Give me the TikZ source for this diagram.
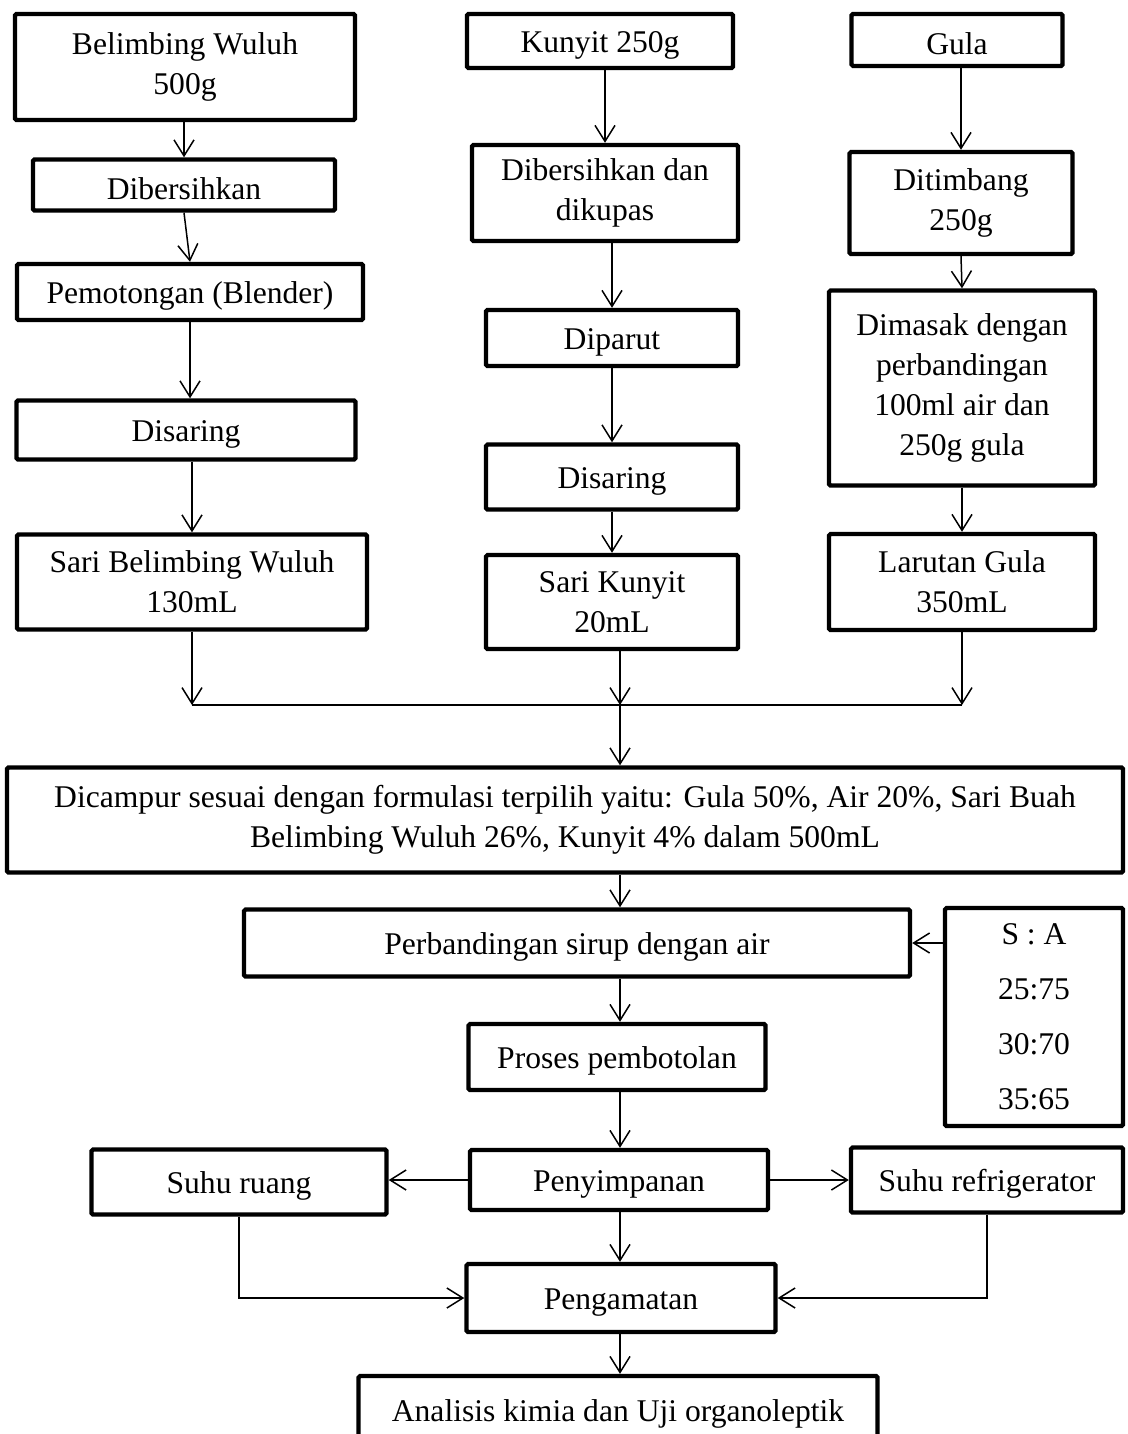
\documentclass[tikz,border=0pt]{standalone}
\usepackage{fontspec}
\setmainfont{Liberation Serif}
\usepackage{tikz}
\usetikzlibrary{arrows.meta,shadows}
\usetikzlibrary{positioning}
\tikzset{
    box/.style={
           rectangle,
           draw=black, line width=2.2pt,
           rounded corners=0.8pt,
           fill=white,
           inner sep=2pt,
           align=center,
           font=\fontsize{15.8pt}{20pt}\selectfont,
           execute at begin node={\rule{0pt}{15pt}},
           drop shadow={opacity=0.25, shadow xshift=0.8pt, shadow yshift=-0.8pt},
           },
}
\tikzset{
    arr/.style={
           line width=0.75pt,
           -{Straight Barb[length=8pt,width=10pt,line width=0.75pt]},
           },
}
\tikzset{
    sz/.style 2 args={minimum width=#1, minimum height=#2},
}

\begin{document}
\begin{tikzpicture}[x=0.5pt,y=-0.5pt]
\useasboundingbox (0,0) rectangle (1128,1434);
% belimbing wuluh
\node[box,sz={170pt}{53pt}] (bw) at (185,67) {Belimbing Wuluh\\500g};
\node[box,sz={151pt}{25.5pt}] (bersih) at (184,185) {Dibersihkan};
\node[box,sz={173pt}{28pt}] (potong) at (190,292) {Pemotongan (Blender)};
\node[box,sz={169.5pt}{29.5pt}] (saring) at (186,430) {Disaring};
\node[box,sz={175pt}{47.5pt}] (saribw) at (192,582) {Sari Belimbing Wuluh\\130mL};
% kunyit
\node[box,sz={133pt}{27pt}] (kunyit) at (600,41) {Kunyit 250g};
\node[box,sz={133pt}{48pt}] (kupas) at (605,193) {Dibersihkan dan\\dikupas};
\node[box,sz={126pt}{28pt}] (parut) at (612,338) {Diparut};
\node[box,sz={126pt}{32.5pt}] (saringk) at (612,477) {Disaring};
\node[box,sz={126pt}{47pt}] (sarik) at (612,602) {Sari Kunyit\\20mL};
% gula
\node[box,sz={105.5pt}{26pt}] (gula) at (957,40) {Gula};
\node[box,sz={111.5pt}{51pt}] (timbang) at (961,203) {Ditimbang\\250g};
\node[box,sz={133pt}{97.5pt}] (masak) at (962,388) {Dimasak dengan\\perbandingan\\100ml air dan\\250g gula};
\node[box,sz={133pt}{48pt}] (larutan) at (962,582) {Larutan Gula\\350mL};
% proses
\node[box,sz={558pt}{52.5pt}] (campur) at (565,820) {Dicampur sesuai dengan formulasi terpilih yaitu: Gula 50\%, Air 20\%, Sari Buah\\Belimbing Wuluh 26\%, Kunyit 4\% dalam 500mL};
\node[box,sz={333pt}{33.5pt}] (banding) at (577,943) {Perbandingan sirup dengan air};
\node[box,sz={89pt}{109pt},font=\fontsize{15.8pt}{27.5pt}\selectfont] (rasio) at (1034,1017) {S : A\\25:75\\30:70\\35:65};
\node[box,sz={148.5pt}{33pt}] (botol) at (617,1057) {Proses pembotolan};
\node[box,sz={149pt}{30pt}] (simpan) at (619,1180) {Penyimpanan};
\node[box,sz={147.5pt}{32.5pt}] (ruang) at (239,1182) {Suhu ruang};
\node[box,sz={136pt}{32.5pt}] (kulkas) at (987,1180) {Suhu refrigerator};
\node[box,sz={154.5pt}{34pt}] (amat) at (621,1298) {Pengamatan};
\node[box,sz={259.5pt}{34pt}] (analisis) at (618,1410) {Analisis kimia dan Uji organoleptik};

\coordinate (jl) at (192,705);
\coordinate (jm) at (620,705);
\coordinate (jr) at (962,705);

\draw[arr] (bersih.north |- bw.south) -- (bersih.north);
\draw[arr] (bersih.south) -- (potong.north);
\draw[arr] (potong.south) -- (potong.south |- saring.north);
\draw[arr] (saribw.north |- saring.south) -- (saribw.north);
\draw[arr] (kupas.north |- kunyit.south) -- (kupas.north);
\draw[arr] (parut.north |- kupas.south) -- (parut.north);
\draw[arr] (parut.south) -- (saringk.north);
\draw[arr] (saringk.south) -- (sarik.north);
\draw[arr] (timbang.north |- gula.south) -- (timbang.north);
\draw[arr] (timbang.south) -- (masak.north);
\draw[arr] (masak.south) -- (larutan.north);

\draw[arr] (saribw.south) -- (jl);
\draw[arr] (sarik.south -| jm) -- (jm);
\draw[arr] (larutan.south) -- (jr);
\draw[line width=0.75pt] (jl) -- (jr);
\draw[arr] (jm) -- (campur.north -| jm);
\draw[arr] (campur.south -| jm) -- (banding.north -| jm);
\draw[arr] (rasio.west |- banding) -- (banding.east);
\draw[arr] (banding.south -| jm) -- (botol.north -| jm);
\draw[arr] (botol.south -| jm) -- (simpan.north -| jm);
\draw[arr] (simpan.west) -- (simpan.west -| ruang.east);
\draw[arr] (simpan.east) -- (kulkas.west);
\draw[arr] (simpan.south -| jm) -- (amat.north -| jm);
\draw[arr] (ruang.south) |- (amat.west);
\draw[arr] (kulkas.south) |- (amat.east);
\draw[arr] (amat.south -| jm) -- (analisis.north -| jm);
\end{tikzpicture}
\end{document}
